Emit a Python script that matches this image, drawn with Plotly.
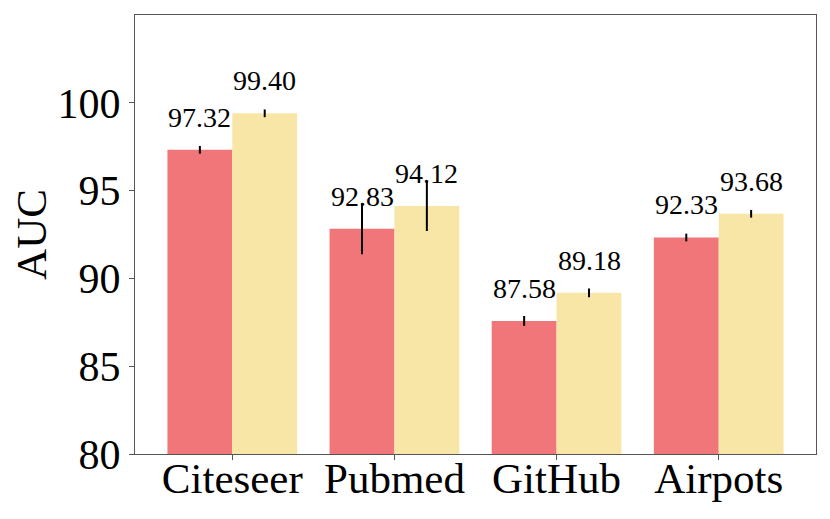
import plotly.graph_objects as go

categories = ["Citeseer", "Pubmed", "GitHub", "Airpots"]
series_a = [97.32, 92.83, 87.58, 92.33]
series_a_err = [0.22, 1.45, 0.28, 0.22]
series_b = [99.40, 94.12, 89.18, 93.68]
series_b_err = [0.22, 1.42, 0.25, 0.22]
y_ticks = [80, 85, 90, 95, 100]

red = "#F0767A"
yellow = "#F8E6A7"
font_family = "Liberation Serif"

fig = go.Figure()
for name, vals, errs, color in [
    ("A", series_a, series_a_err, red),
    ("B", series_b, series_b_err, yellow),
]:
    fig.add_trace(go.Bar(
        x=categories, y=vals, name=name,
        marker=dict(color=color, line=dict(width=0)),
        error_y=dict(type="data", array=errs, visible=True, color="black",
                     thickness=2, width=0),
        showlegend=False,
    ))

for i, cat in enumerate(categories):
    for vals, off in [(series_a, -0.2), (series_b, 0.2)]:
        fig.add_annotation(
            x=i + off, y=vals[i], text=f"{vals[i]:.2f}", showarrow=False,
            yanchor="bottom", xanchor="center", yshift=15,
            font=dict(family=font_family, size=28, color="black"),
        )

fig.update_layout(
    width=830, height=519,
    margin=dict(l=127, r=22, t=7, b=73),
    paper_bgcolor="white", plot_bgcolor="white",
    barmode="group", bargap=0.2, bargroupgap=0,
    font=dict(family=font_family, color="black"),
)
fig.update_xaxes(
    range=[-0.6, 3.6], showline=True, linecolor="#555555", linewidth=1,
    mirror=True, ticks="outside", ticklen=5, tickcolor="#555555",
    tickfont=dict(size=43, family=font_family), showgrid=False,
    automargin=False, ticklabelstandoff=-19,
)
fig.update_yaxes(
    range=[80, 105], tickvals=y_ticks, showline=True, linecolor="#555555",
    linewidth=1, mirror=True, ticks="outside", ticklen=5, tickcolor="#555555",
    tickfont=dict(size=42, family=font_family), showgrid=False, zeroline=False,
    automargin=False,
    title=dict(text="AUC", font=dict(size=43, family=font_family), standoff=14),
)

fig.write_html("out.html")
